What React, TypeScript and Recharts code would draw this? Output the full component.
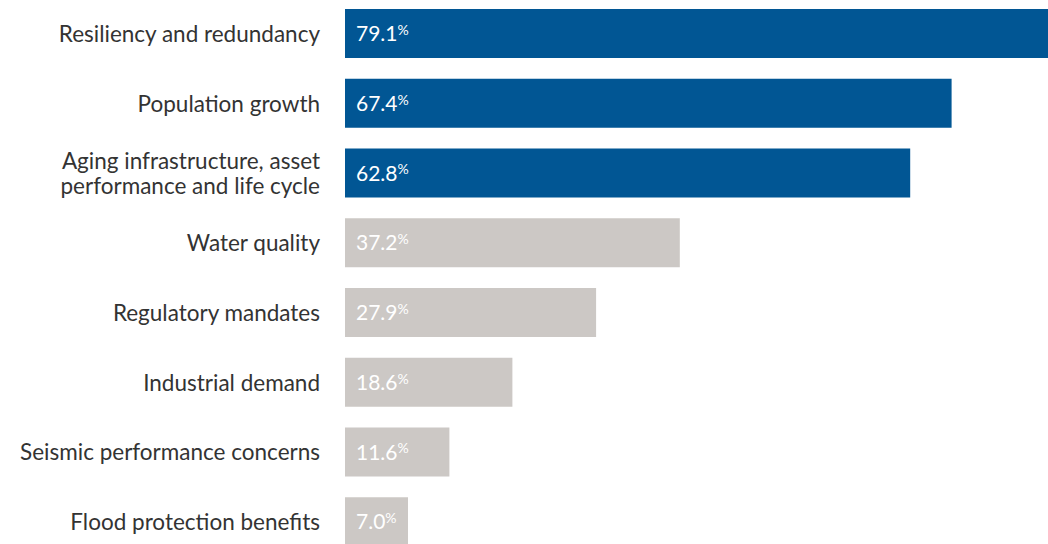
import * as React from 'react';
import { BarChart, Bar, XAxis, YAxis, Cell, LabelList } from 'recharts';

const categories = [
  'Resiliency and redundancy',
  'Population growth',
  'Aging infrastructure, asset\nperformance and life cycle',
  'Water quality',
  'Regulatory mandates',
  'Industrial demand',
  'Seismic performance concerns',
  'Flood protection benefits',
];
const shares = [79.1, 67.4, 62.8, 37.2, 27.9, 18.6, 11.6, 7.0];
const highlighted = [true, true, true, false, false, false, false, false];

const BLUE = '#015694';
const GREY = '#ccc8c5';
const FONT = 'Lato, "Open Sans", sans-serif';

const data = categories.map((name, i) => ({ name, value: shares[i], top: highlighted[i] }));

const CategoryTick = (props: any) => {
  const { x, y, payload } = props;
  const lines = String(payload.value).split('\n');
  const lh = 25;
  const start = -((lines.length - 1) * lh) / 2;
  return (
    <text x={x} y={y} textAnchor="end" fill="#333333" fontSize={22.5} fontFamily={FONT}>
      {lines.map((l: string, i: number) => (
        <tspan key={i} x={x} y={y + start + i * lh} dy="0.36em">{l}</tspan>
      ))}
    </text>
  );
};

const ValueLabel = (props: any) => {
  const { x, y, height, value } = props;
  return (
    <text x={x + 11} y={y + height / 2} dy="0.36em" fill="#ffffff" fontSize={21} fontFamily={FONT}>
      {Number(value).toFixed(1)}
      <tspan fontSize={14} dy="-0.45em">%</tspan>
    </text>
  );
};

export default function App() {
  return (
    <div style={{ position: 'absolute', left: 0, top: 0, width: 1048, height: 544, overflow: 'hidden', background: '#fff' }}>
      <BarChart
        width={1065}
        height={557}
        data={data}
        layout="vertical"
        margin={{ top: -1, right: 0, bottom: 0, left: 0 }}
        barSize={49}
      >
        <XAxis type="number" domain={[0, 80]} hide />
        <YAxis
          type="category"
          dataKey="name"
          width={345}
          axisLine={false}
          tickLine={false}
          tickMargin={19}
          interval={0}
          tick={<CategoryTick />}
        />
        <Bar dataKey="value" isAnimationActive={false}>
          {data.map((d, i) => (
            <Cell key={i} fill={d.top ? BLUE : GREY} />
          ))}
          <LabelList dataKey="value" content={<ValueLabel />} />
        </Bar>
      </BarChart>
    </div>
  );
}
